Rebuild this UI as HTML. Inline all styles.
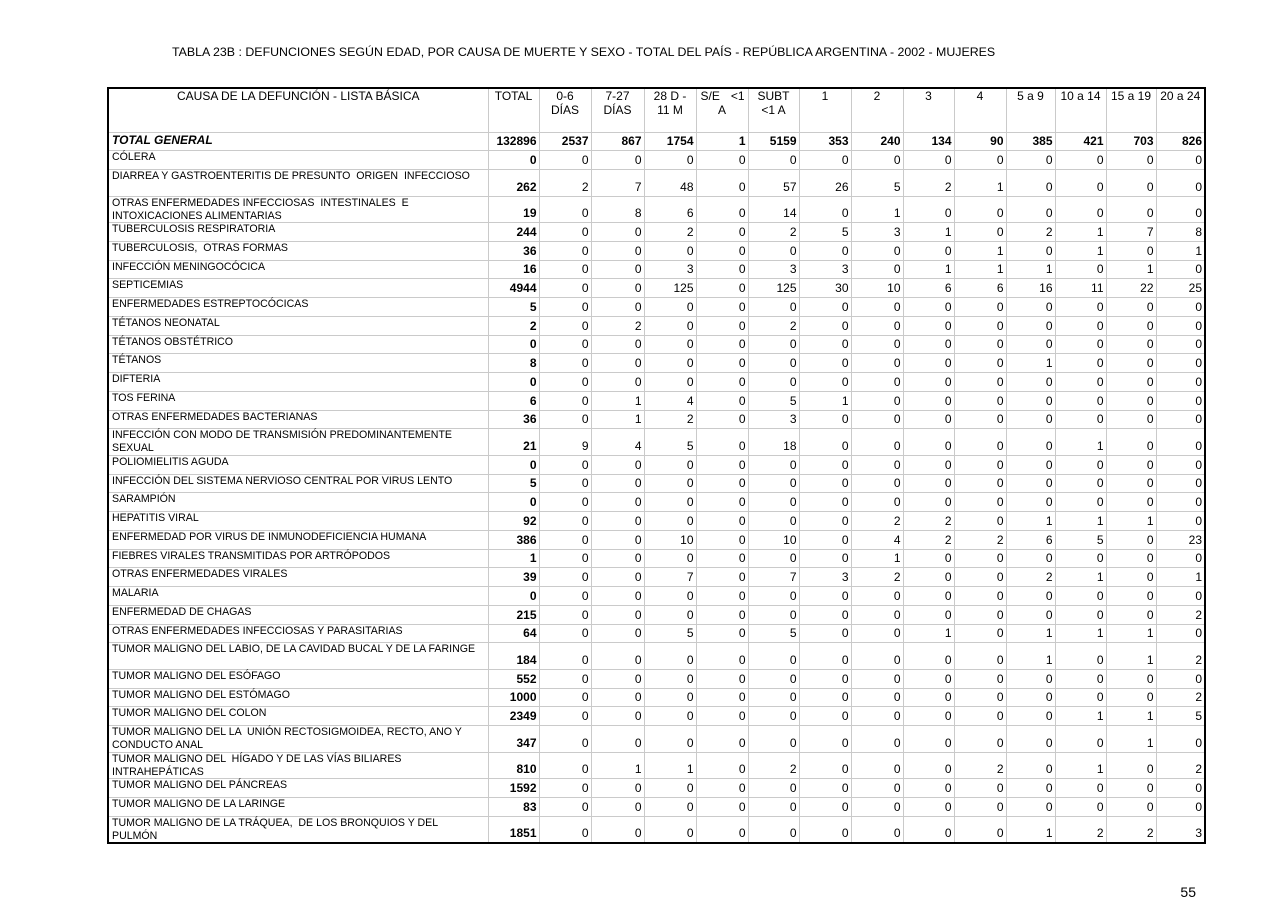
<!DOCTYPE html>
<html>
<head>
<meta charset="utf-8">
<style>
  html, body { margin:0; padding:0; background:#fff; }
  body { width:1280px; height:905px; position:relative; overflow:hidden;
         font-family:"Liberation Sans", Arial, sans-serif; color:#000; }
  .title { position:absolute; left:172px; top:45px; font-size:12.38px; line-height:14px; white-space:nowrap; }
  .pg { position:absolute; right:84px; top:884px; font-size:14px; line-height:16px; }
  table { position:absolute; left:107px; top:87px; border-collapse:collapse; table-layout:fixed;
          width:1097px; border:2px solid #000; }
  td, th { border:1px solid #cacaca; padding:0; overflow:visible; }
  th { font-size:12px; font-weight:normal; vertical-align:top; text-align:center; line-height:14px; padding-top:0; white-space:nowrap; }
  tr.h { height:44px; }
  tr.s { height:18.75px; }
  tr.d { height:26.5px; }
  td.t { vertical-align:top; text-align:left; padding-left:3px; }
  td.t div { height:0; overflow:visible; font-size:10.6px; line-height:13px; white-space:pre; }
  td { font-size:12px; line-height:13px; vertical-align:bottom; text-align:right; padding:0 2px 2px 0; }
  td.b { font-weight:bold; }
  tr.g td { font-weight:bold; }
  tr.g td.t div { font-size:12px; font-style:italic; line-height:15px; }
  .se { display:flex; justify-content:space-between; padding:0 3px 0 4px; }
</style>
</head>
<body>
<div class="title">TABLA 23B : DEFUNCIONES SEGÚN EDAD, POR CAUSA DE MUERTE Y SEXO - TOTAL DEL PAÍS - REPÚBLICA ARGENTINA - 2002 - MUJERES</div>
<table>
<colgroup>
<col style="width:380px">
<col style="width:51px"><col style="width:52px"><col style="width:53px"><col style="width:52px"><col style="width:52px"><col style="width:51px"><col style="width:52px">
<col style="width:52px"><col style="width:51px"><col style="width:52px"><col style="width:49px"><col style="width:51px"><col style="width:50px"><col style="width:49px">
</colgroup>
<tr class="h">
<th>CAUSA DE LA DEFUNCIÓN - LISTA BÁSICA</th><th>TOTAL</th><th>0-6<br>DÍAS</th><th>7-27<br>DÍAS</th><th>28 D -<br>11 M</th><th><div class="se"><span>S/E</span><span>&lt;1</span></div>A</th><th>SUBT<br>&lt;1 A</th><th>1</th><th>2</th><th>3</th><th>4</th><th>5 a 9</th><th>10 a 14</th><th>15 a 19</th><th>20 a 24</th>
</tr>
<tr class="s g"><td class="t"><div>TOTAL GENERAL</div></td><td>132896</td><td>2537</td><td>867</td><td>1754</td><td>1</td><td>5159</td><td>353</td><td>240</td><td>134</td><td>90</td><td>385</td><td>421</td><td>703</td><td>826</td></tr>
<tr class="s"><td class="t"><div>CÓLERA</div></td><td class="b">0</td><td>0</td><td>0</td><td>0</td><td>0</td><td>0</td><td>0</td><td>0</td><td>0</td><td>0</td><td>0</td><td>0</td><td>0</td><td>0</td></tr>
<tr class="d"><td class="t"><div>DIARREA Y GASTROENTERITIS DE PRESUNTO  ORIGEN  INFECCIOSO</div></td><td class="b">262</td><td>2</td><td>7</td><td>48</td><td>0</td><td>57</td><td>26</td><td>5</td><td>2</td><td>1</td><td>0</td><td>0</td><td>0</td><td>0</td></tr>
<tr class="d"><td class="t"><div>OTRAS ENFERMEDADES INFECCIOSAS  INTESTINALES  E
INTOXICACIONES ALIMENTARIAS</div></td><td class="b">19</td><td>0</td><td>8</td><td>6</td><td>0</td><td>14</td><td>0</td><td>1</td><td>0</td><td>0</td><td>0</td><td>0</td><td>0</td><td>0</td></tr>
<tr class="s"><td class="t"><div>TUBERCULOSIS RESPIRATORIA</div></td><td class="b">244</td><td>0</td><td>0</td><td>2</td><td>0</td><td>2</td><td>5</td><td>3</td><td>1</td><td>0</td><td>2</td><td>1</td><td>7</td><td>8</td></tr>
<tr class="s"><td class="t"><div>TUBERCULOSIS,  OTRAS FORMAS</div></td><td class="b">36</td><td>0</td><td>0</td><td>0</td><td>0</td><td>0</td><td>0</td><td>0</td><td>0</td><td>1</td><td>0</td><td>1</td><td>0</td><td>1</td></tr>
<tr class="s"><td class="t"><div>INFECCIÓN MENINGOCÓCICA</div></td><td class="b">16</td><td>0</td><td>0</td><td>3</td><td>0</td><td>3</td><td>3</td><td>0</td><td>1</td><td>1</td><td>1</td><td>0</td><td>1</td><td>0</td></tr>
<tr class="s"><td class="t"><div>SEPTICEMIAS</div></td><td class="b">4944</td><td>0</td><td>0</td><td>125</td><td>0</td><td>125</td><td>30</td><td>10</td><td>6</td><td>6</td><td>16</td><td>11</td><td>22</td><td>25</td></tr>
<tr class="s"><td class="t"><div>ENFERMEDADES ESTREPTOCÓCICAS</div></td><td class="b">5</td><td>0</td><td>0</td><td>0</td><td>0</td><td>0</td><td>0</td><td>0</td><td>0</td><td>0</td><td>0</td><td>0</td><td>0</td><td>0</td></tr>
<tr class="s"><td class="t"><div>TÉTANOS NEONATAL</div></td><td class="b">2</td><td>0</td><td>2</td><td>0</td><td>0</td><td>2</td><td>0</td><td>0</td><td>0</td><td>0</td><td>0</td><td>0</td><td>0</td><td>0</td></tr>
<tr class="s"><td class="t"><div>TÉTANOS OBSTÉTRICO</div></td><td class="b">0</td><td>0</td><td>0</td><td>0</td><td>0</td><td>0</td><td>0</td><td>0</td><td>0</td><td>0</td><td>0</td><td>0</td><td>0</td><td>0</td></tr>
<tr class="s"><td class="t"><div>TÉTANOS</div></td><td class="b">8</td><td>0</td><td>0</td><td>0</td><td>0</td><td>0</td><td>0</td><td>0</td><td>0</td><td>0</td><td>1</td><td>0</td><td>0</td><td>0</td></tr>
<tr class="s"><td class="t"><div>DIFTERIA</div></td><td class="b">0</td><td>0</td><td>0</td><td>0</td><td>0</td><td>0</td><td>0</td><td>0</td><td>0</td><td>0</td><td>0</td><td>0</td><td>0</td><td>0</td></tr>
<tr class="s"><td class="t"><div>TOS FERINA</div></td><td class="b">6</td><td>0</td><td>1</td><td>4</td><td>0</td><td>5</td><td>1</td><td>0</td><td>0</td><td>0</td><td>0</td><td>0</td><td>0</td><td>0</td></tr>
<tr class="s"><td class="t"><div>OTRAS ENFERMEDADES BACTERIANAS</div></td><td class="b">36</td><td>0</td><td>1</td><td>2</td><td>0</td><td>3</td><td>0</td><td>0</td><td>0</td><td>0</td><td>0</td><td>0</td><td>0</td><td>0</td></tr>
<tr class="d"><td class="t"><div>INFECCIÓN CON MODO DE TRANSMISIÓN PREDOMINANTEMENTE
SEXUAL</div></td><td class="b">21</td><td>9</td><td>4</td><td>5</td><td>0</td><td>18</td><td>0</td><td>0</td><td>0</td><td>0</td><td>0</td><td>1</td><td>0</td><td>0</td></tr>
<tr class="s"><td class="t"><div>POLIOMIELITIS AGUDA</div></td><td class="b">0</td><td>0</td><td>0</td><td>0</td><td>0</td><td>0</td><td>0</td><td>0</td><td>0</td><td>0</td><td>0</td><td>0</td><td>0</td><td>0</td></tr>
<tr class="s"><td class="t"><div>INFECCIÓN DEL SISTEMA NERVIOSO CENTRAL POR VIRUS LENTO</div></td><td class="b">5</td><td>0</td><td>0</td><td>0</td><td>0</td><td>0</td><td>0</td><td>0</td><td>0</td><td>0</td><td>0</td><td>0</td><td>0</td><td>0</td></tr>
<tr class="s"><td class="t"><div>SARAMPIÓN</div></td><td class="b">0</td><td>0</td><td>0</td><td>0</td><td>0</td><td>0</td><td>0</td><td>0</td><td>0</td><td>0</td><td>0</td><td>0</td><td>0</td><td>0</td></tr>
<tr class="s"><td class="t"><div>HEPATITIS VIRAL</div></td><td class="b">92</td><td>0</td><td>0</td><td>0</td><td>0</td><td>0</td><td>0</td><td>2</td><td>2</td><td>0</td><td>1</td><td>1</td><td>1</td><td>0</td></tr>
<tr class="s"><td class="t"><div>ENFERMEDAD POR VIRUS DE INMUNODEFICIENCIA HUMANA</div></td><td class="b">386</td><td>0</td><td>0</td><td>10</td><td>0</td><td>10</td><td>0</td><td>4</td><td>2</td><td>2</td><td>6</td><td>5</td><td>0</td><td>23</td></tr>
<tr class="s"><td class="t"><div>FIEBRES VIRALES TRANSMITIDAS POR ARTRÓPODOS</div></td><td class="b">1</td><td>0</td><td>0</td><td>0</td><td>0</td><td>0</td><td>0</td><td>1</td><td>0</td><td>0</td><td>0</td><td>0</td><td>0</td><td>0</td></tr>
<tr class="s"><td class="t"><div>OTRAS ENFERMEDADES VIRALES</div></td><td class="b">39</td><td>0</td><td>0</td><td>7</td><td>0</td><td>7</td><td>3</td><td>2</td><td>0</td><td>0</td><td>2</td><td>1</td><td>0</td><td>1</td></tr>
<tr class="s"><td class="t"><div>MALARIA</div></td><td class="b">0</td><td>0</td><td>0</td><td>0</td><td>0</td><td>0</td><td>0</td><td>0</td><td>0</td><td>0</td><td>0</td><td>0</td><td>0</td><td>0</td></tr>
<tr class="s"><td class="t"><div>ENFERMEDAD DE CHAGAS</div></td><td class="b">215</td><td>0</td><td>0</td><td>0</td><td>0</td><td>0</td><td>0</td><td>0</td><td>0</td><td>0</td><td>0</td><td>0</td><td>0</td><td>2</td></tr>
<tr class="s"><td class="t"><div>OTRAS ENFERMEDADES INFECCIOSAS Y PARASITARIAS</div></td><td class="b">64</td><td>0</td><td>0</td><td>5</td><td>0</td><td>5</td><td>0</td><td>0</td><td>1</td><td>0</td><td>1</td><td>1</td><td>1</td><td>0</td></tr>
<tr class="d"><td class="t"><div>TUMOR MALIGNO DEL LABIO, DE LA CAVIDAD BUCAL Y DE LA FARINGE</div></td><td class="b">184</td><td>0</td><td>0</td><td>0</td><td>0</td><td>0</td><td>0</td><td>0</td><td>0</td><td>0</td><td>1</td><td>0</td><td>1</td><td>2</td></tr>
<tr class="s"><td class="t"><div>TUMOR MALIGNO DEL ESÓFAGO</div></td><td class="b">552</td><td>0</td><td>0</td><td>0</td><td>0</td><td>0</td><td>0</td><td>0</td><td>0</td><td>0</td><td>0</td><td>0</td><td>0</td><td>0</td></tr>
<tr class="s"><td class="t"><div>TUMOR MALIGNO DEL ESTÓMAGO</div></td><td class="b">1000</td><td>0</td><td>0</td><td>0</td><td>0</td><td>0</td><td>0</td><td>0</td><td>0</td><td>0</td><td>0</td><td>0</td><td>0</td><td>2</td></tr>
<tr class="s"><td class="t"><div>TUMOR MALIGNO DEL COLON</div></td><td class="b">2349</td><td>0</td><td>0</td><td>0</td><td>0</td><td>0</td><td>0</td><td>0</td><td>0</td><td>0</td><td>0</td><td>1</td><td>1</td><td>5</td></tr>
<tr class="d"><td class="t"><div>TUMOR MALIGNO DEL LA  UNIÓN RECTOSIGMOIDEA, RECTO, ANO Y
CONDUCTO ANAL</div></td><td class="b">347</td><td>0</td><td>0</td><td>0</td><td>0</td><td>0</td><td>0</td><td>0</td><td>0</td><td>0</td><td>0</td><td>0</td><td>1</td><td>0</td></tr>
<tr class="d"><td class="t"><div>TUMOR MALIGNO DEL  HÍGADO Y DE LAS VÍAS BILIARES
INTRAHEPÁTICAS</div></td><td class="b">810</td><td>0</td><td>1</td><td>1</td><td>0</td><td>2</td><td>0</td><td>0</td><td>0</td><td>2</td><td>0</td><td>1</td><td>0</td><td>2</td></tr>
<tr class="s"><td class="t"><div>TUMOR MALIGNO DEL PÁNCREAS</div></td><td class="b">1592</td><td>0</td><td>0</td><td>0</td><td>0</td><td>0</td><td>0</td><td>0</td><td>0</td><td>0</td><td>0</td><td>0</td><td>0</td><td>0</td></tr>
<tr class="s"><td class="t"><div>TUMOR MALIGNO DE LA LARINGE</div></td><td class="b">83</td><td>0</td><td>0</td><td>0</td><td>0</td><td>0</td><td>0</td><td>0</td><td>0</td><td>0</td><td>0</td><td>0</td><td>0</td><td>0</td></tr>
<tr class="d"><td class="t"><div>TUMOR MALIGNO DE LA TRÁQUEA,  DE LOS BRONQUIOS Y DEL
PULMÓN</div></td><td class="b">1851</td><td>0</td><td>0</td><td>0</td><td>0</td><td>0</td><td>0</td><td>0</td><td>0</td><td>0</td><td>1</td><td>2</td><td>2</td><td>3</td></tr>
</table>
<div class="pg">55</div>
</body>
</html>
